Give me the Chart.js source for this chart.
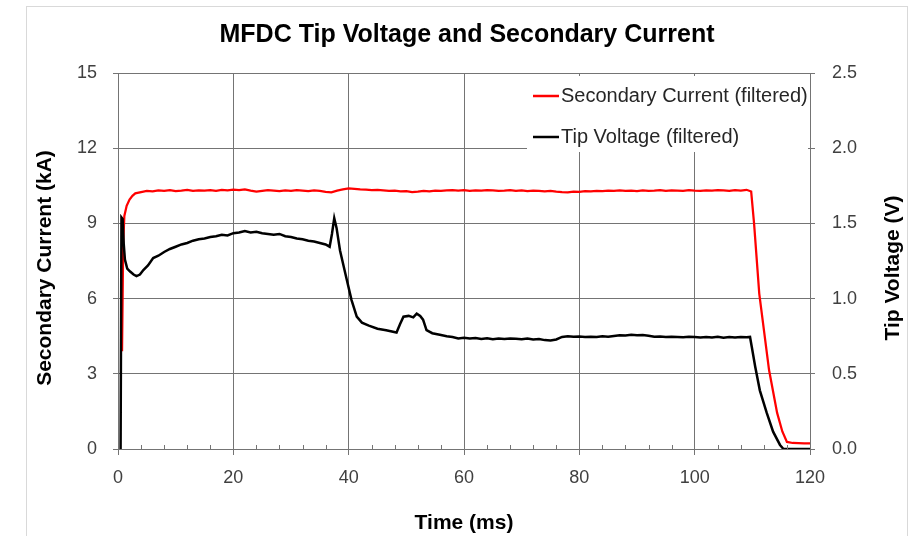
<!DOCTYPE html>
<html>
<head>
<meta charset="utf-8">
<script src="https://cdn.jsdelivr.net/npm/chart.js@4.4.1/dist/chart.umd.min.js"></script>
<style>
  html, body { margin: 0; padding: 0; background: #fff; }
  #frame {
    position: absolute; left: 26px; top: 6px;
    width: 880px; height: 600px;
    border: 1px solid #d9d9d9;
  }
  #chart { position: absolute; left: 0; top: 0; }
</style>
</head>
<body>
<div id="frame"></div>
<canvas id="chart" width="922" height="536"></canvas>
<script>
// --- Data ---
const currentTime = [
  0.7, 0.9, 1.1, 1.5, 2.0, 2.5, 3.0, 4.0,
  5, 6, 7, 8, 9, 10, 11, 12, 13, 14,
  15, 16, 17, 18, 19, 20, 21, 22, 23, 24,
  25, 26, 27, 28, 29, 30, 31, 32, 33, 34,
  35, 36, 37, 38, 39, 40, 41, 42, 43, 44,
  45, 46, 47, 48, 49, 50, 51, 52, 53, 54,
  55, 56, 57, 58, 59, 60, 61, 62, 63, 64,
  65, 66, 67, 68, 69, 70, 71, 72, 73, 74,
  75, 76, 77, 78, 79, 80, 81, 82, 83, 84,
  85, 86, 87, 88, 89, 90, 91, 92, 93, 94,
  95, 96, 97, 98, 99, 100, 101, 102, 103, 104,
  105, 106, 107, 108, 109,
  109.8, 110.3, 111.2, 112.9, 114.3, 115.2, 116, 117, 118, 119, 120
];
const currentKA = [
  3.9, 8.2, 9.3, 9.7, 9.95, 10.1, 10.2, 10.25,
  10.30, 10.28, 10.32, 10.30, 10.33, 10.29, 10.31, 10.34, 10.30, 10.32,
  10.31, 10.33, 10.30, 10.34, 10.32, 10.35, 10.33, 10.36, 10.31, 10.27,
  10.30, 10.33, 10.31, 10.29, 10.32, 10.30, 10.33, 10.31, 10.29, 10.32,
  10.30, 10.26, 10.24, 10.31, 10.36, 10.40, 10.38, 10.36, 10.35, 10.33,
  10.34, 10.32, 10.30, 10.31, 10.28, 10.29, 10.25, 10.27, 10.30, 10.28,
  10.31, 10.30, 10.32, 10.33, 10.31, 10.33, 10.30, 10.32, 10.31, 10.33,
  10.32, 10.30, 10.31, 10.33, 10.30, 10.32, 10.29, 10.31, 10.30, 10.28,
  10.30, 10.27, 10.25, 10.24, 10.27, 10.26, 10.29, 10.28, 10.30, 10.29,
  10.31, 10.30, 10.32, 10.30, 10.31, 10.29, 10.32, 10.30, 10.31, 10.33,
  10.30, 10.32, 10.31, 10.30, 10.33, 10.31, 10.30, 10.32, 10.31, 10.33,
  10.32, 10.30, 10.33, 10.31, 10.34,
  10.27, 9.0, 6.2, 3.15, 1.44, 0.7, 0.28, 0.24, 0.23, 0.22, 0.22
];

const voltageTime = [
  0.45, 0.6, 0.8, 1.0, 1.2, 1.6, 2.1, 2.7, 3.2, 3.8, 4.4, 5.2, 6.1,
  7, 8, 9, 10, 11, 12, 13, 14, 15, 16, 17, 18, 19, 20,
  21, 22, 23, 24, 25, 26, 27, 28, 29, 30,
  31, 32, 33, 34, 35, 36, 36.7, 37.1, 37.5, 37.9, 38.5, 39.4,
  40.5, 41.4, 42.3, 43.5, 45, 46.5, 48.3, 48.9, 49.5, 50.4, 51.2, 51.8,
  52.4, 52.9, 53.5, 54.5, 55.8, 57, 58, 59,
  60, 61, 62, 63, 64, 65, 66, 67, 68, 69,
  70, 71, 72, 73, 74, 75, 76, 77, 78, 79,
  80, 81, 82, 83, 84, 85, 86, 87, 88, 89,
  90, 91, 92, 93, 94, 95, 96, 97, 98, 99,
  100, 101, 102, 103, 104, 105, 106, 107, 108, 109,
  109.6, 109.9, 110.5, 111.3, 112.5, 113.6, 114.8, 115.4, 120
];
const voltageV = [
  0, 1.54, 1.53, 1.36, 1.26, 1.20, 1.18, 1.16, 1.15, 1.16, 1.19, 1.22, 1.27,
  1.285, 1.31, 1.33, 1.345, 1.36, 1.37, 1.385, 1.395, 1.40, 1.41, 1.415, 1.425, 1.42, 1.435,
  1.44, 1.45, 1.44, 1.445, 1.435, 1.43, 1.425, 1.43, 1.415, 1.41,
  1.40, 1.395, 1.385, 1.38, 1.37, 1.36, 1.345, 1.43, 1.535, 1.47, 1.32, 1.17,
  0.99, 0.88, 0.84, 0.82, 0.80, 0.79, 0.775, 0.83, 0.88, 0.885, 0.875, 0.90,
  0.885, 0.86, 0.79, 0.77, 0.76, 0.75, 0.745, 0.735,
  0.740, 0.735, 0.738, 0.732, 0.736, 0.730, 0.734, 0.731, 0.735, 0.733,
  0.730, 0.734, 0.728, 0.731, 0.724, 0.722, 0.728, 0.745, 0.750, 0.746,
  0.748, 0.744, 0.747, 0.745, 0.749, 0.746, 0.752, 0.757, 0.755, 0.759,
  0.756, 0.758, 0.753, 0.746, 0.748, 0.744, 0.747, 0.745, 0.743, 0.746,
  0.744, 0.741, 0.745, 0.742, 0.746, 0.740, 0.744, 0.742, 0.745, 0.743,
  0.745, 0.68, 0.547, 0.39, 0.24, 0.115, 0.027, 0, 0
];

const seriesLabels = ['Secondary Current (filtered)', 'Tip Voltage (filtered)'];
const seriesColors = ['#ff0000', '#000000'];

const titleText = 'MFDC Tip Voltage and Secondary Current';
const xTitle = 'Time (ms)';
const yTitle = 'Secondary Current (kA)';
const y1Title = 'Tip Voltage (V)';

const GRID = '#747474';
const TICK_TEXT = '#404040';
const FONT = "'Liberation Sans', Arial, sans-serif";

// minor ticks on the time axis (inside), every 4 ms
const minorTicks = {
  id: 'minorTicks',
  afterDraw(chart) {
    const { ctx, scales: { x }, chartArea } = chart;
    ctx.save();
    ctx.strokeStyle = GRID;
    ctx.lineWidth = 1;
    for (let v = 4; v < 120; v += 4) {
      if (v % 20 === 0) continue;
      const px = Math.round(x.getPixelForValue(v)) + 0.5;
      ctx.beginPath();
      ctx.moveTo(px, chartArea.bottom);
      ctx.lineTo(px, chartArea.bottom - 4);
      ctx.stroke();
    }
    ctx.restore();
  }
};

// both vertical axis titles read bottom-to-top
const sideTitles = {
  id: 'sideTitles',
  afterDraw(chart) {
    const { ctx, chartArea } = chart;
    const cy = (chartArea.top + chartArea.bottom) / 2 + 7;
    ctx.save();
    ctx.font = `bold 21px ${FONT}`;
    ctx.fillStyle = '#000';
    ctx.textAlign = 'center';
    ctx.textBaseline = 'middle';
    [[45, yTitle], [893, y1Title]].forEach(([cx, text]) => {
      ctx.save();
      ctx.translate(cx, cy);
      ctx.rotate(-Math.PI / 2);
      ctx.fillText(text, 0, 0);
      ctx.restore();
    });
    ctx.restore();
  }
};

// legend box in the top-right of the plot, white background over the grid
const boxLegend = {
  id: 'boxLegend',
  afterDraw(chart) {
    const { ctx, chartArea } = chart;
    const left = chartArea.right - 283;
    const top = chartArea.top + 3;
    ctx.save();
    ctx.fillStyle = '#fff';
    ctx.fillRect(left, top, 281, 76);
    ctx.font = `20px ${FONT}`;
    ctx.textBaseline = 'middle';
    ctx.textAlign = 'left';
    chart.data.datasets.forEach((ds, i) => {
      const y = top + 20 + i * 41;
      ctx.strokeStyle = ds.borderColor;
      ctx.lineWidth = 2.5;
      ctx.beginPath();
      ctx.moveTo(left + 6, y);
      ctx.lineTo(left + 32, y);
      ctx.stroke();
      ctx.fillStyle = '#262626';
      ctx.fillText(ds.label, left + 34, y);
    });
    ctx.restore();
  }
};

new Chart(document.getElementById('chart').getContext('2d'), {
  type: 'line',
  data: {
    datasets: [
      {
        label: seriesLabels[0],
        data: currentTime.map((t, i) => ({ x: t, y: currentKA[i] })),
        borderColor: seriesColors[0],
        borderWidth: 2.25,
        pointRadius: 0,
        tension: 0,
        yAxisID: 'y',
        order: 1
      },
      {
        label: seriesLabels[1],
        data: voltageTime.map((t, i) => ({ x: t, y: voltageV[i] })),
        borderColor: seriesColors[1],
        borderWidth: 2.5,
        pointRadius: 0,
        tension: 0,
        yAxisID: 'y1',
        order: 0
      }
    ]
  },
  options: {
    responsive: false,
    animation: false,
    layout: { padding: { left: 26, right: 14, top: 0, bottom: 0 } },
    scales: {
      x: {
        type: 'linear',
        min: 0,
        max: 120,
        afterFit: (s) => { s.height = 87; },
        ticks: {
          stepSize: 20,
          padding: 12,
          color: TICK_TEXT,
          font: { family: FONT, size: 18 }
        },
        grid: { color: GRID, tickLength: 6, tickColor: GRID },
        border: { color: GRID },
        title: {
          display: true,
          text: xTitle,
          color: '#000',
          font: { family: FONT, size: 21, weight: 'bold' },
          padding: { top: 0, bottom: 0 }
        }
      },
      y: {
        position: 'left',
        min: 0,
        max: 15,
        afterFit: (s) => { s.width = 92; },
        ticks: {
          stepSize: 3,
          padding: 16,
          color: TICK_TEXT,
          font: { family: FONT, size: 18 }
        },
        grid: { color: GRID, tickLength: 5, tickColor: GRID },
        border: { color: GRID }
      },
      y1: {
        position: 'right',
        min: 0,
        max: 2.5,
        afterFit: (s) => { s.width = 98; },
        ticks: {
          stepSize: 0.5,
          padding: 17,
          color: TICK_TEXT,
          font: { family: FONT, size: 18 },
          callback: (v) => v.toFixed(1)
        },
        grid: { drawOnChartArea: false, tickLength: 5, tickColor: GRID },
        border: { color: GRID }
      }
    },
    plugins: {
      legend: { display: false },
      tooltip: { enabled: false },
      title: {
        display: true,
        text: titleText,
        color: '#000',
        font: { family: FONT, size: 25, weight: 'bold' },
        padding: { top: 20, bottom: 23 }
      }
    }
  },
  plugins: [minorTicks, sideTitles, boxLegend]
});
</script>
</body>
</html>
